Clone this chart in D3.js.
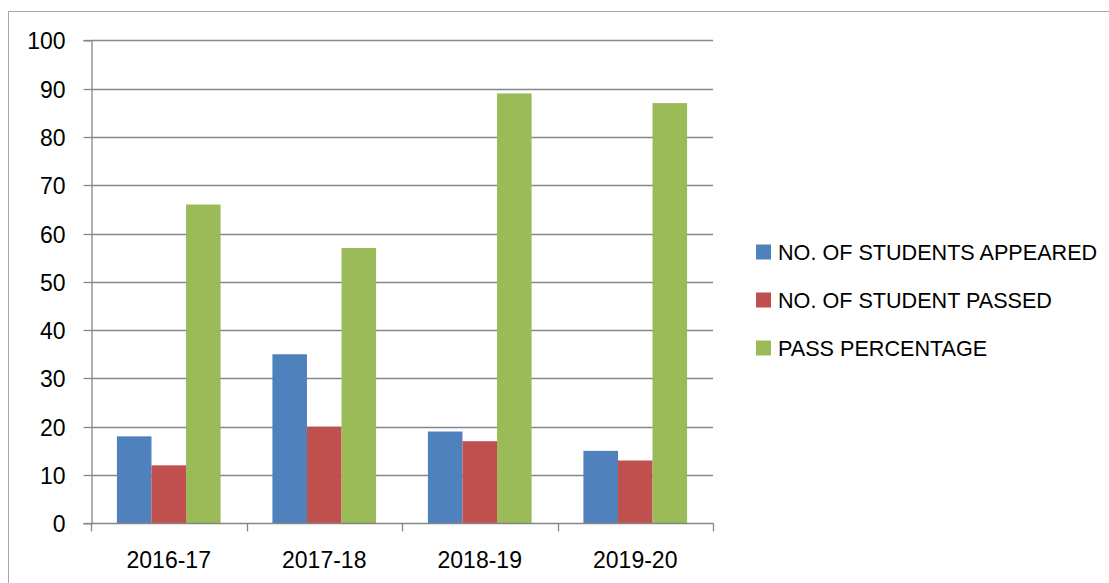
<!DOCTYPE html>
<html>
<head>
<meta charset="utf-8">
<script src="https://cdn.jsdelivr.net/npm/d3@7"></script>
<style>
html,body{margin:0;padding:0;background:#fff;}
svg{display:block;}
text{font-family:"Liberation Sans",Arial,sans-serif;fill:#000;}
</style>
</head>
<body>
<svg id="chart" width="1109" height="583"></svg>
<script>
const categories = ["2016-17", "2017-18", "2018-19", "2019-20"];
const seriesNames = ["NO. OF STUDENTS APPEARED", "NO. OF STUDENT PASSED", "PASS PERCENTAGE"];
const appeared = [18, 35, 19, 15];
const passed = [12, 20, 17, 13];
const passPercentage = [66, 57, 89, 87];
const yTicks = [0, 10, 20, 30, 40, 50, 60, 70, 80, 90, 100];
const colors = ["#4F81BD", "#C0504D", "#9BBB59"];

const seriesValues = [appeared, passed, passPercentage];

const svg = d3.select("#chart");
const plotLeft = 91, plotRight = 713, plotTop = 40.3, plotBottom = 523.3;
const gridColor = "#868686";

// outer border
svg.append("rect").attr("x", 8.5).attr("y", 11.5).attr("width", 1200).attr("height", 700)
  .attr("fill", "none").attr("stroke", "#a6a6a6").attr("stroke-width", 1);

const x = d3.scaleBand().domain(categories).range([plotLeft, plotRight]).padding(0);
const y = d3.scaleLinear().domain([0, 100]).range([plotBottom, plotTop]);

// gridlines
svg.append("g").selectAll("line").data(yTicks.filter(d => d > 0)).join("line")
  .attr("x1", plotLeft).attr("x2", plotRight)
  .attr("y1", d => Math.round(y(d)) + 0.5).attr("y2", d => Math.round(y(d)) + 0.5)
  .attr("stroke", gridColor).attr("stroke-width", 1.3);

// y axis
const yAxis = d3.axisLeft(y).tickValues(yTicks).tickSize(8).tickPadding(18).tickFormat(d3.format("d"));
const gy = svg.append("g").attr("transform", `translate(${plotLeft + 0.5},0)`).call(yAxis);
gy.selectAll("path").attr("stroke", gridColor).attr("stroke-width", 1.3);
gy.selectAll(".tick line").attr("stroke", gridColor).attr("stroke-width", 1.3);
gy.selectAll("text").attr("font-size", 23).attr("font-family", "Liberation Sans, Arial, sans-serif").attr("fill", "#000").attr("dy", "0.36em");
gy.selectAll(".tick").attr("transform", d => `translate(0,${Math.round(y(d)) + 0.5})`);

// bars
const inner = d3.scaleBand().domain(d3.range(seriesNames.length))
  .range([0, x.bandwidth()]).paddingInner(0).paddingOuter(0.75);
const groups = svg.append("g").selectAll("g").data(categories).join("g")
  .attr("transform", c => `translate(${x(c)},0)`);
groups.selectAll("rect").data((c, i) => seriesValues.map((s, k) => ({k, v: s[i]}))).join("rect")
  .attr("x", d => inner(d.k))
  .attr("width", inner.bandwidth())
  .attr("y", d => y(d.v))
  .attr("height", d => plotBottom - y(d.v))
  .attr("fill", d => colors[d.k]);

// x axis
const gx = svg.append("g").attr("transform", `translate(0,${Math.round(plotBottom) + 0.5})`);
gx.append("line").attr("x1", plotLeft).attr("x2", plotRight + 0.5).attr("stroke", gridColor).attr("stroke-width", 1.3);
gx.selectAll("line.tk").data(d3.range(categories.length + 1)).join("line").attr("class", "tk")
  .attr("x1", i => Math.round(plotLeft + i * x.step()) + 0.5).attr("x2", i => Math.round(plotLeft + i * x.step()) + 0.5)
  .attr("y1", 0).attr("y2", 8).attr("stroke", gridColor).attr("stroke-width", 1.3);
gx.selectAll("text").data(categories).join("text")
  .attr("x", c => x(c) + x.bandwidth() / 2).attr("y", 44)
  .attr("text-anchor", "middle").attr("font-size", 23).text(c => c);

// legend
const lg = svg.append("g").attr("transform", "translate(756,0)");
const rowY = [252, 300, 348];
lg.selectAll("rect").data(seriesNames).join("rect")
  .attr("x", 0).attr("y", (d, i) => rowY[i] - 7.5).attr("width", 15).attr("height", 15)
  .attr("fill", (d, i) => colors[i]);
lg.selectAll("text").data(seriesNames).join("text")
  .attr("x", 22).attr("y", (d, i) => rowY[i] + 7.5)
  .attr("font-size", 21.6).text(d => d);
</script>
</body>
</html>
